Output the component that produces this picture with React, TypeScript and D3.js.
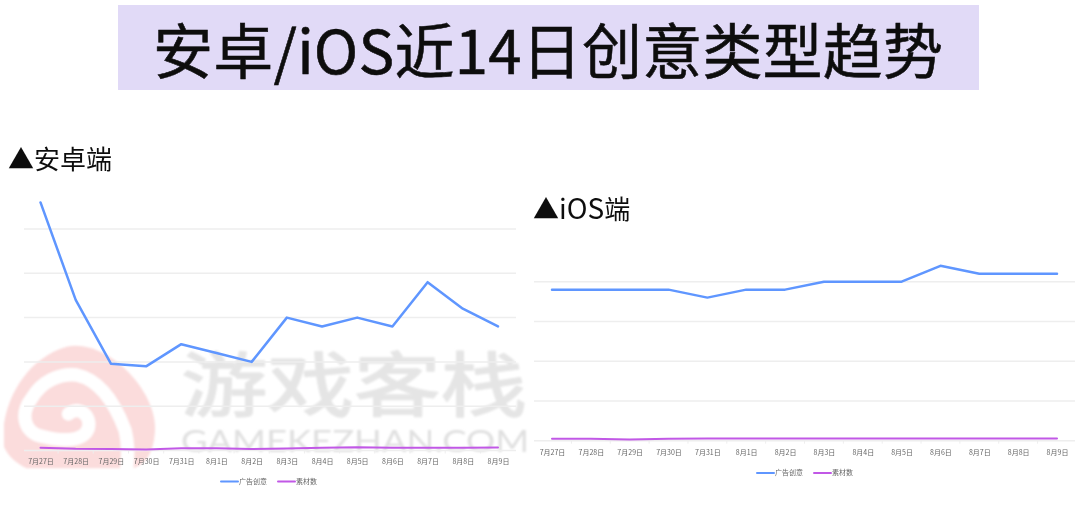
import React, { useRef, useLayoutEffect } from 'react';
import * as d3 from 'd3';

const dates = ['7月27日', '7月28日', '7月29日', '7月30日', '7月31日', '8月1日', '8月2日', '8月3日', '8月4日', '8月5日', '8月6日', '8月7日', '8月8日', '8月9日'];
const seriesNames = ['广告创意', '素材数'];
const seriesColors = ['#5f96ff', '#c158e6'];

const androidCreatives = [28, 17, 9.8, 9.5, 12, 11, 10, 15, 14, 15, 14, 19, 16, 14];
const androidMaterials = [0.32, 0.2, 0.17, 0.1, 0.25, 0.25, 0.17, 0.22, 0.3, 0.38, 0.3, 0.3, 0.3, 0.35];
const androidTicks = [0, 5, 10, 15, 20, 25];

const iosCreatives = [19, 19, 19, 19, 18, 19, 19, 20, 20, 20, 22, 21, 21, 21];
const iosMaterials = [0.25, 0.25, 0.15, 0.25, 0.27, 0.27, 0.27, 0.27, 0.27, 0.27, 0.27, 0.27, 0.27, 0.27];
const iosTicks = [0, 5, 10, 15, 20];

const CJK = '"Noto Sans CJK SC", "Noto Sans", sans-serif';

interface panelProps {
  creatives: number[];
  materials: number[];
  ticks: number[];
  gridX: [number, number];
  pointX: [number, number];
  y0: number;
  yTop: number;
  labelY: number;
  legendX: number;
  legendY: number;
}

const Panel: React.FC<panelProps> = ({ creatives, materials, ticks, gridX, pointX, y0, yTop, labelY, legendX, legendY }) => {
  const ref = useRef<SVGGElement>(null);

  useLayoutEffect(() => {
    const g = d3.select(ref.current);
    g.selectAll('*').remove();

    const x = d3.scalePoint<string>().domain(dates).range(pointX);
    const y = d3.scaleLinear().domain([0, ticks[ticks.length - 1]]).range([y0, yTop]);

    g.append('g')
      .selectAll('line')
      .data(ticks)
      .enter()
      .append('line')
      .attr('x1', gridX[0])
      .attr('x2', gridX[1])
      .attr('y1', (d) => y(d))
      .attr('y2', (d) => y(d))
      .attr('stroke', '#eeeeee')
      .attr('stroke-width', 1.5);

    // small marks between categories on the baseline
    g.append('g')
      .selectAll('line')
      .data(dates.slice(1))
      .enter()
      .append('line')
      .attr('x1', (d) => (x(d) as number) - x.step() / 2)
      .attr('x2', (d) => (x(d) as number) - x.step() / 2)
      .attr('y1', y0)
      .attr('y2', y0 + 3)
      .attr('stroke', '#eeeeee');

    const axis = d3.axisBottom(x).tickSize(0).tickPadding(0);
    const axisG = g.append('g').attr('transform', `translate(0,${labelY})`).call(axis);
    axisG.select('.domain').remove();
    axisG
      .selectAll('text')
      .attr('fill', '#666666')
      .attr('font-size', 7)
      .attr('font-family', CJK)
      .attr('dy', '0.35em')
      .attr('y', 0);

    const line = d3
      .line<number>()
      .x((_, i) => x(dates[i]) as number)
      .y((d) => y(d));

    [creatives, materials].forEach((values, i) => {
      g.append('path')
        .attr('d', line(values))
        .attr('fill', 'none')
        .attr('stroke', seriesColors[i])
        .attr('stroke-width', i === 0 ? 2.5 : 2)
        .attr('stroke-linejoin', 'round')
        .attr('stroke-linecap', 'round');
    });

    // legend
    const legendOffsets = [0, 57];
    seriesNames.forEach((name, i) => {
      const lx = legendX + legendOffsets[i];
      g.append('line')
        .attr('x1', lx)
        .attr('x2', lx + 17)
        .attr('y1', legendY)
        .attr('y2', legendY)
        .attr('stroke', seriesColors[i])
        .attr('stroke-width', 2)
        .attr('stroke-linecap', 'round');
      g.append('text')
        .attr('x', lx + 18)
        .attr('y', legendY)
        .attr('dy', '0.35em')
        .attr('fill', '#666666')
        .attr('font-size', 7)
        .attr('font-family', CJK)
        .text(name);
    });
  }, []);

  return <g ref={ref} filter="url(#soft)" />;
};

const Watermark: React.FC = () => (
  <g clipPath="url(#markClip)">
    <g transform="translate(0,340) scale(0.3333)">
      <path
        d="M12,320 C-5,220 60,60 200,20 C320,-5 470,150 465,270 C462,335 440,370 400,385 L80,385 C50,370 25,350 12,320 Z"
        fill="#fbdcdc"
      />
      <path
        d="M205,222 C235,195 275,225 265,265 C250,305 190,305 130,290 C70,280 60,220 95,175 C125,125 175,100 230,105 C300,120 345,190 375,270 C385,310 385,340 380,390"
        fill="none"
        stroke="#ffffff"
        strokeWidth={40}
        strokeLinecap="round"
      />
    </g>
    <text
      x={181}
      y={411}
      fontSize={70}
      fontFamily={CJK}
      fill="#e5e5e5"
      stroke="#e5e5e5"
      strokeWidth={1.5}
      strokeLinejoin="round"
      textLength={346}
      lengthAdjust="spacingAndGlyphs"
    >
      游戏客栈
    </text>
    <text x={181} y={452} fontSize={31} fontFamily="Lato, sans-serif" fontWeight={400} fill="#e0e0e0" textLength={348} lengthAdjust="spacingAndGlyphs">
      GAMEKEZHAN.COM
    </text>
  </g>
);

export default function App() {
  return (
    <svg width={1080} height={506} style={{ position: 'absolute', left: 0, top: 0, background: '#fff' }}>
      <defs>
        <filter id="soft" x="-5%" y="-5%" width="110%" height="110%">
          <feGaussianBlur stdDeviation={0.5} />
        </filter>
        <filter id="softMark" x="-5%" y="-5%" width="110%" height="110%">
          <feGaussianBlur stdDeviation={0.8} />
        </filter>
        <clipPath id="markClip">
          <rect x={4} y={340} width={523} height={130} />
        </clipPath>
      </defs>

      <rect x={118} y={5} width={861} height={85} fill="#e1daf7" />
      <text x={153} y={74} fontSize={60} fontFamily={CJK} fill="#0a0a0a" stroke="#0a0a0a" strokeWidth={0.5} textLength={790} filter="url(#soft)">
        安卓/iOS近14日创意类型趋势
      </text>

      <g filter="url(#softMark)">
        <Watermark />
      </g>

      <text x={8} y={169} fontSize={26} fontFamily={CJK} fill="#111" filter="url(#soft)">
        ▲安卓端
      </text>
      <text x={533} y={219} fontSize={26} fontFamily={CJK} fill="#111" filter="url(#soft)">
        ▲<tspan fontSize={28}>iOS</tspan>端
      </text>

      <Panel
        creatives={androidCreatives}
        materials={androidMaterials}
        ticks={androidTicks}
        gridX={[24, 516]}
        pointX={[40.5, 498]}
        y0={450.5}
        yTop={229}
        labelY={462}
        legendX={221}
        legendY={481.5}
      />
      <Panel
        creatives={iosCreatives}
        materials={iosMaterials}
        ticks={iosTicks}
        gridX={[534, 1075]}
        pointX={[552, 1057]}
        y0={440.7}
        yTop={281.7}
        labelY={453}
        legendX={757}
        legendY={473}
      />
    </svg>
  );
}
